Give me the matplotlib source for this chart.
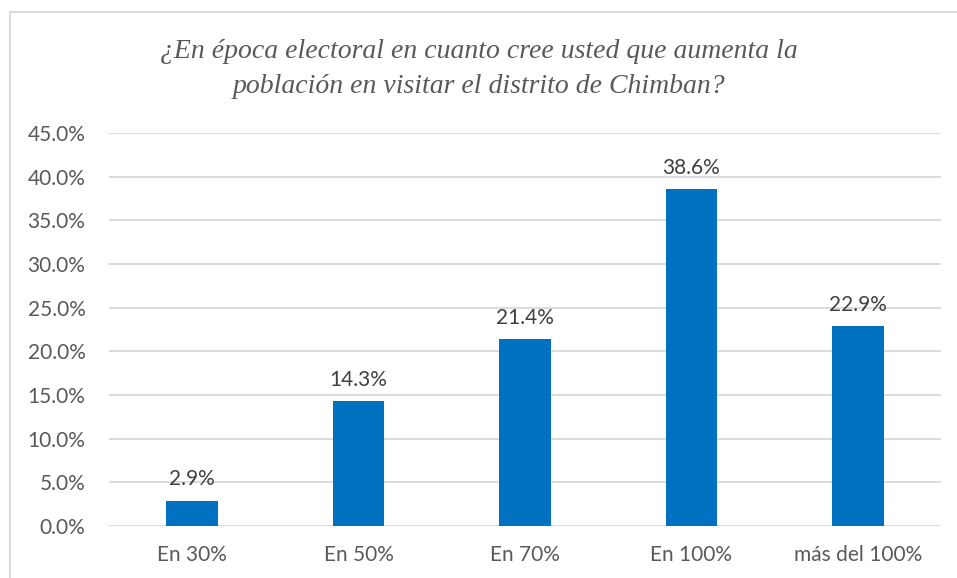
import matplotlib.pyplot as plt
from matplotlib.lines import Line2D

categorias = ["En 30%", "En 50%", "En 70%", "En 100%", "más del 100%"]
valores = [2.9, 14.3, 21.4, 38.6, 22.9]
ticks_y = [0, 5, 10, 15, 20, 25, 30, 35, 40, 45]

gris = "#595959"
fig = plt.figure(figsize=(9.57, 5.78), dpi=100)
ax = fig.add_axes([109 / 957, 1 - 526 / 578, 832 / 957, 393 / 578])

x = range(len(categorias))
barras = ax.bar(x, valores, width=0.31, color="#0070C0", zorder=3)
for b, v in zip(barras, valores):
    ax.text(b.get_x() + b.get_width() / 2, v + 1.3, f"{v:.1f}%",
            ha="center", va="bottom", fontsize=15, color="#404040", family="Lato")

ax.set_xlim(-0.5, len(categorias) - 0.5)
ax.set_ylim(0, 45)
ax.set_yticks(ticks_y)
ax.set_yticklabels([f"{t:.1f}%" for t in ticks_y])
ax.set_xticks(list(x))
ax.set_xticklabels(categorias)
ax.yaxis.grid(True, color="#D9D9D9", linewidth=1.3, zorder=0)
for s in ax.spines.values():
    s.set_visible(False)
ax.tick_params(length=0, labelsize=15, labelcolor=gris)
ax.tick_params(axis="y", pad=17)
ax.tick_params(axis="x", pad=14)
for lbl in ax.get_xticklabels() + ax.get_yticklabels():
    lbl.set_family("Lato")

fig.text(0.5, 1 - 52 / 578, "¿En época electoral en cuanto cree usted que aumenta la",
         ha="center", va="center", fontsize=20, style="italic",
         family="Liberation Serif", color=gris)
fig.text(0.5, 1 - 86 / 578, "población en visitar el distrito de Chimban?",
         ha="center", va="center", fontsize=20, style="italic",
         family="Liberation Serif", color=gris)

# borde del área del gráfico
fig.add_artist(Line2D([10 / 957, 10 / 957], [0, 1 - 12 / 578], color="#D9D9D9", linewidth=1.3))
fig.add_artist(Line2D([10 / 957, 1], [1 - 12 / 578, 1 - 12 / 578], color="#D9D9D9", linewidth=1.3))

fig.savefig("out.png", dpi=100)
